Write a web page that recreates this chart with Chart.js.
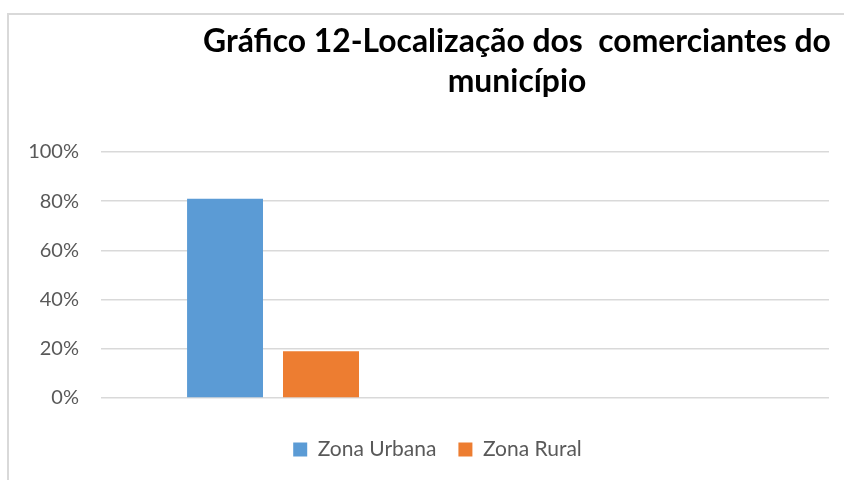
<!DOCTYPE html>
<html>
<head>
<meta charset="utf-8">
<script src="https://cdn.jsdelivr.net/npm/chart.js@4/dist/chart.umd.min.js"></script>
<style>
  html, body { margin: 0; padding: 0; background: #ffffff; }
  #wrap { width: 844px; height: 480px; position: relative; }
</style>
</head>
<body>
<div id="wrap"><canvas id="c" width="844" height="480"></canvas></div>
<script>
// ---- Data ----
const titleLines = ['Gráfico 12-Localização dos  comerciantes do', 'município'];
const categories = ['', ''];
const seriesNames = ['Zona Urbana', 'Zona Rural'];
const urbanaValues = [81, null];
const ruralValues = [19, null];
const yTicks = [0, 20, 40, 60, 80, 100];

// ---- Plugins ----
const frameAndTitle = {
  id: 'frameAndTitle',
  afterLayout(chart) {
    // centre the legend row under the same point as in the original layout
    if (chart.legend) { chart.legend.left = 46; }
  },
  beforeDraw(chart) {
    const ctx = chart.ctx;
    ctx.save();
    ctx.fillStyle = '#ffffff';
    ctx.fillRect(0, 0, chart.width, chart.height);
    ctx.strokeStyle = '#d9d9d9';
    ctx.lineWidth = 2;
    ctx.strokeRect(8, 14, 900, 600);
    ctx.restore();
  },
  afterDraw(chart) {
    const ctx = chart.ctx;
    ctx.save();
    let size = 30;
    ctx.font = 'bold ' + size + 'px Lato';
    const w = ctx.measureText(titleLines[0]).width;
    size = size * 628 / w;
    ctx.font = 'bold ' + size.toFixed(2) + 'px Lato';
    ctx.fillStyle = '#000000';
    ctx.textAlign = 'center';
    ctx.textBaseline = 'alphabetic';
    ctx.fillText(titleLines[0], 517, 52);
    ctx.fillText(titleLines[1], 517, 92);
    ctx.restore();
  }
};

const ctx = document.getElementById('c').getContext('2d');
new Chart(ctx, {
  type: 'bar',
  data: {
    labels: categories,
    datasets: [
      {
        label: seriesNames[0],
        data: urbanaValues,
        backgroundColor: '#5B9BD5',
        borderWidth: 0,
        categoryPercentage: 0.637,
        barPercentage: 0.655
      },
      {
        label: seriesNames[1],
        data: ruralValues,
        backgroundColor: '#ED7D31',
        borderWidth: 0,
        categoryPercentage: 0.4176,
        barPercentage: 1.0
      }
    ]
  },
  options: {
    responsive: false,
    animation: false,
    devicePixelRatio: 1,
    layout: { padding: { left: 0, right: 15, top: 152, bottom: 10 } },
    plugins: {
      title: { display: false },
      tooltip: { enabled: false },
      legend: {
        display: true,
        position: 'bottom',
        labels: {
          boxWidth: 14,
          boxHeight: 14,
          padding: 22,
          color: '#595959',
          font: { family: 'Lato', size: 21 }
        }
      }
    },
    scales: {
      x: {
        display: true,
        grid: { display: false },
        border: { display: false },
        ticks: { display: false },
        afterFit(s) { s.height = 19; }
      },
      y: {
        min: 0,
        max: 100,
        afterBuildTicks(s) { s.ticks = yTicks.map(v => ({ value: v })); },
        afterFit(s) { s.width = 101; },
        border: { display: false },
        grid: { color: '#d9d9d9', lineWidth: 1.5, drawTicks: false },
        ticks: {
          padding: 22,
          color: '#595959',
          font: { family: 'Lato', size: 20 },
          callback: v => v + '%'
        }
      }
    }
  },
  plugins: [frameAndTitle]
});
</script>
</body>
</html>
